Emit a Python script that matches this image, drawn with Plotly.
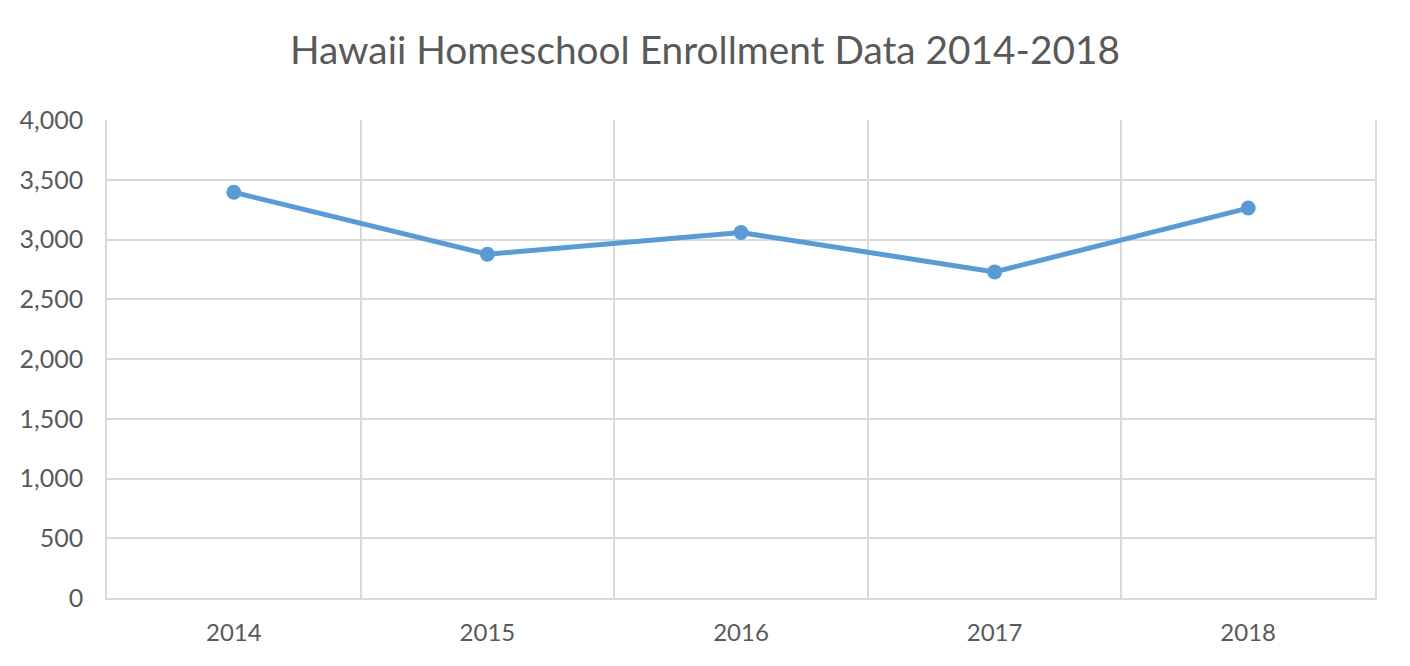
import plotly.graph_objects as go

years = ["2014", "2015", "2016", "2017", "2018"]
enrollment = [3395, 2877, 3058, 2729, 3263]
y_ticks = [0, 500, 1000, 1500, 2000, 2500, 3000, 3500, 4000]

grid = "#D9D9D9"
text_col = "#595959"

fig = go.Figure()
fig.add_trace(go.Scatter(
    x=years,
    y=enrollment,
    mode="lines+markers",
    line=dict(color="#5B9BD5", width=5),
    marker=dict(color="#5B9BD5", size=15),
))

# page body has an 8px margin, so margins are shifted to compensate
fig.update_layout(
    width=1410,
    height=666,
    margin=dict(l=99, r=43, t=112, b=76),
    paper_bgcolor="white",
    plot_bgcolor="white",
    showlegend=False,
    font=dict(family="Lato", color=text_col, size=24),
    title=dict(
        text="Hawaii Homeschool Enrollment Data 2014-2018",
        x=0.4943, xanchor="center",
        y=0.937, yanchor="middle",
        font=dict(size=38.8, color=text_col),
    ),
)

fig.update_xaxes(
    type="category",
    range=[-0.5, len(years) - 0.5],
    tickson="boundaries",
    showgrid=True,
    gridcolor=grid,
    gridwidth=1.5,
    showline=True,
    linecolor=grid,
    linewidth=1.5,
    ticks="",
    ticklabelstandoff=12,
    automargin=False,
)
fig.update_yaxes(
    range=[0, 4000],
    tickvals=y_ticks,
    tickformat=",",
    showgrid=True,
    gridcolor=grid,
    gridwidth=1.5,
    zeroline=False,
    showline=True,
    mirror=True,
    linecolor=grid,
    linewidth=1.5,
    ticks="",
    ticklabelstandoff=17,
    tickfont=dict(size=25),
    automargin=False,
)

fig.write_html("out.html")
